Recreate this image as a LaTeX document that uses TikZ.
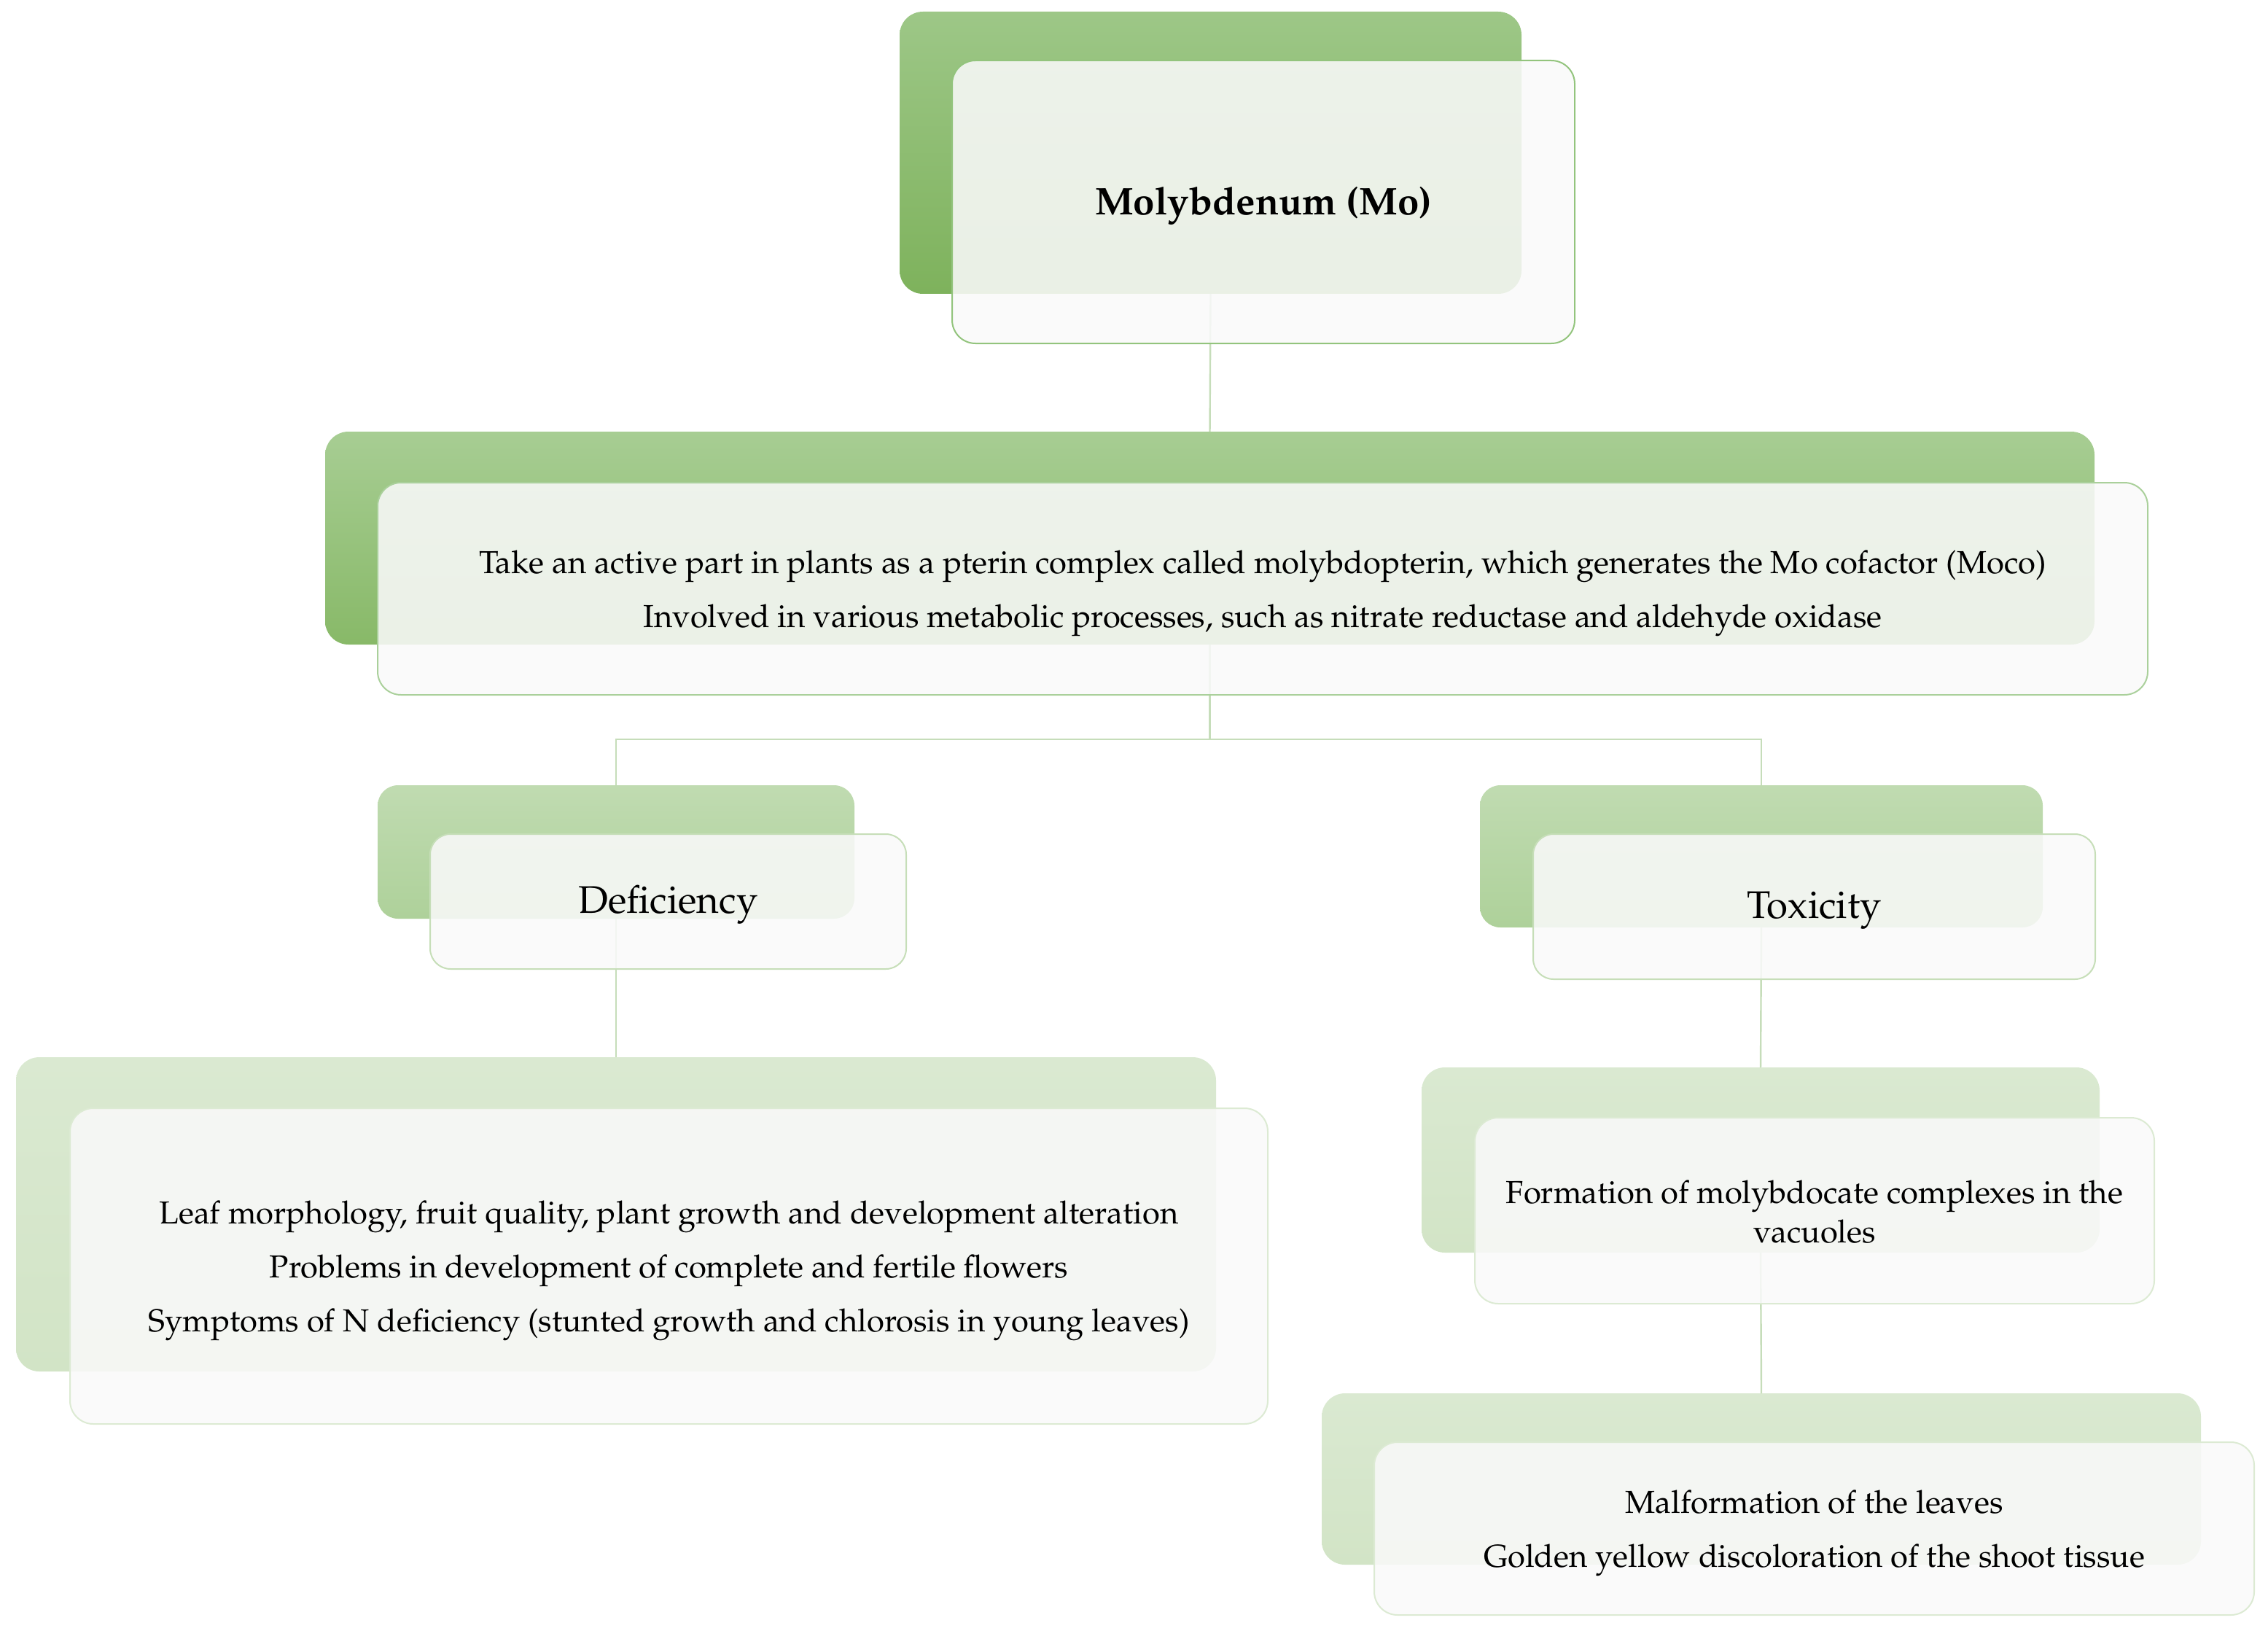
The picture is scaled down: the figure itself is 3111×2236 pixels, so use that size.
\documentclass[tikz,border=0pt]{standalone}
\usepackage[T1]{fontenc}
\renewcommand{\rmdefault}{ppl}
\usetikzlibrary{fit}
\definecolor{gAt}{HTML}{9DC787}
\definecolor{gAb}{HTML}{7EB25C}
\definecolor{gBt}{HTML}{A7CD93}
\definecolor{gBb}{HTML}{88B968}
\definecolor{gCt}{HTML}{C0DBB1}
\definecolor{gCb}{HTML}{AED19A}
\definecolor{gDt}{HTML}{DAE9D1}
\definecolor{gDb}{HTML}{D2E4C6}
\definecolor{eA}{HTML}{93C47D}
\definecolor{eB}{HTML}{AAD09B}
\definecolor{eC}{HTML}{C6DEB8}
\definecolor{eD}{HTML}{DCEAD3}
\definecolor{frfill}{HTML}{F9F9F9}
\definecolor{connc}{HTML}{C6DDBA}
\begin{document}
\begin{tikzpicture}[x=0.25pt,y=-0.25pt,
  conn/.style={draw=connc, line width=0.6pt},
  bk/.style={inner sep=0pt, outer sep=0pt, rounded corners=8pt},
  fr/.style={inner sep=0pt, outer sep=0pt, rounded corners=8pt, fill=frfill, fill opacity=0.88, line width=0.5pt},
  txt/.style={inner sep=0pt, align=center, yshift=-1.6pt, font=\fontsize{10.9}{13.3}\selectfont},
  big/.style={inner sep=0pt, align=center, yshift=-1.2pt, font=\fontsize{13.2}{15}\selectfont},
  bkA/.style={bk, top color=gAt, bottom color=gAb},
  bkB/.style={bk, top color=gBt, bottom color=gBb},
  bkC/.style={bk, top color=gCt, bottom color=gCb, rounded corners=7pt},
  bkD/.style={bk, top color=gDt, bottom color=gDb},
  frA/.style={fr, draw=eA},
  frB/.style={fr, draw=eB},
  frC/.style={fr, draw=eC, rounded corners=7pt},
  frD/.style={fr, draw=eD}
]
\useasboundingbox (0,0) rectangle (3111,2236);
% back boxes
\node[bkA, fit={(1234,16) (2087,403)}] (b1) {};
\node[bkB, fit={(446,592) (2873,884)}] (b2) {};
\node[bkC, fit={(518,1077) (1172,1260)}] (bd) {};
\node[bkC, fit={(2030,1077) (2802,1272)}] (bt) {};
\node[bkD, fit={(22,1450) (1668,1881)}] (bdd) {};
\node[bkD, fit={(1950,1464) (2880,1718)}] (btd) {};
\node[bkD, fit={(1813,1911) (3019,2146)}] (btt) {};
% connectors
\coordinate (j) at (b2.south |- 0,1014);
\draw[conn] (b1.south) -- (b2.north);
\draw[conn] (b2.south) -- (j);
\draw[conn] (bd.north) |- (j) -| (bt.north);
\draw[conn] (bd.south) -- (bdd.north);
\draw[conn] (bt.south) -- (btd.north);
\draw[conn] (btd.south) -- (btt.north);
% front boxes
\node[frA, fit={(1306,83) (2160,471)}] (f1) {};
\node[frB, fit={(518,662) (2946,953)}] (f2) {};
\node[frC, fit={(590,1144) (1243,1329)}] (fd) {};
\node[frC, fit={(2103,1144) (2874,1343)}] (ft) {};
\node[frD, fit={(96,1520) (1739,1953)}] (fdd) {};
\node[frD, fit={(2023,1533) (2955,1788)}] (ftd) {};
\node[frD, fit={(1885,1978) (3092,2215)}] (ftt) {};
% texts
\node[big] (t1) at (f1.center) {\textbf{Molybdenum (Mo)}};
\node[txt] (t2) at (f2.center) {Take an active part in plants as a pterin complex called molybdopterin, which generates the Mo cofactor (Moco)\\[5.3pt]Involved in various metabolic processes, such as nitrate reductase and aldehyde oxidase};
\node[big] (td) at (fd.center) {Deficiency};
\node[big] (tt) at (ft.center) {Toxicity};
\node[txt] (tdd) at (fdd.center) {Leaf morphology, fruit quality, plant growth and development alteration\\[5.3pt]Problems in development of complete and fertile flowers\\[5.3pt]Symptoms of N deficiency (stunted growth and chlorosis in young leaves)};
\node[txt, yshift=1.2pt] (ttd) at (ftd.center) {Formation of molybdocate complexes in the\\vacuoles};
\node[txt] (ttt) at (ftt.center) {Malformation of the leaves\\[5.3pt]Golden yellow discoloration of the shoot tissue};
\end{tikzpicture}
\end{document}
